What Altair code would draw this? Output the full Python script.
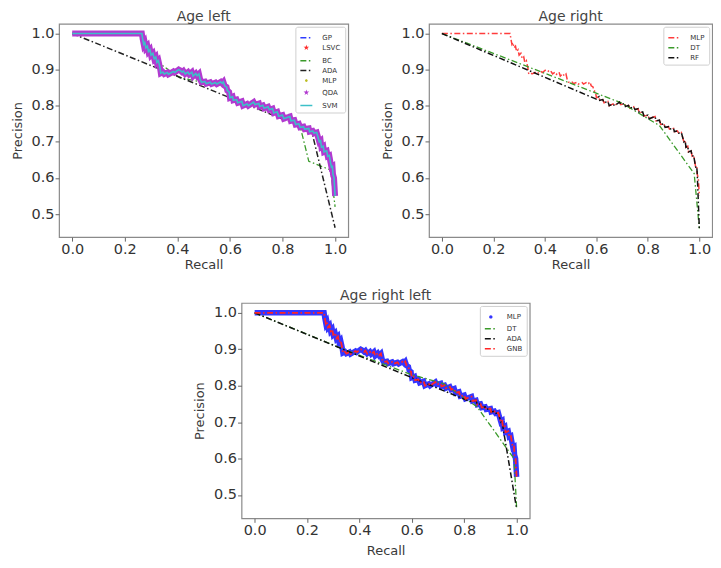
import altair as alt
import pandas as pd

# ---- main (stepped) precision-recall curve ----
main_recall = [0.0, 0.265, 0.268, 0.272, 0.276, 0.280, 0.286, 0.290, 0.296, 0.300,
               0.307, 0.312, 0.318, 0.322, 0.328, 0.334, 0.337, 0.345, 0.350, 0.362,
               0.366, 0.385, 0.390, 0.405, 0.410, 0.418, 0.423, 0.430, 0.440, 0.445,
               0.455, 0.460, 0.470, 0.475, 0.482, 0.487, 0.492, 0.505, 0.510, 0.525,
               0.530, 0.545, 0.550, 0.565, 0.570, 0.575, 0.580, 0.587, 0.590, 0.597,
               0.600, 0.610, 0.613, 0.625, 0.630, 0.645, 0.650, 0.665, 0.670, 0.690,
               0.695, 0.710, 0.713, 0.725, 0.730, 0.745, 0.750, 0.762, 0.767, 0.780,
               0.785, 0.800, 0.805, 0.820, 0.828, 0.832, 0.845, 0.850, 0.862, 0.867,
               0.880, 0.884, 0.900, 0.903, 0.915, 0.920, 0.930, 0.935, 0.940, 0.945,
               0.948, 0.955, 0.958, 0.968, 0.972, 0.978, 0.982, 0.986, 0.990, 0.992,
               0.996, 0.998, 1.000]
main_precision = [1.000, 1.000, 0.985, 0.970, 0.975, 0.960, 0.965, 0.950, 0.955, 0.940,
                  0.945, 0.930, 0.935, 0.920, 0.925, 0.905, 0.890, 0.893, 0.888, 0.892,
                  0.887, 0.895, 0.892, 0.900, 0.898, 0.893, 0.896, 0.888, 0.893, 0.887,
                  0.893, 0.882, 0.889, 0.883, 0.888, 0.872, 0.865, 0.867, 0.861, 0.865,
                  0.860, 0.864, 0.860, 0.866, 0.862, 0.866, 0.855, 0.852, 0.842, 0.838,
                  0.822, 0.825, 0.815, 0.817, 0.808, 0.812, 0.800, 0.805, 0.800, 0.810,
                  0.803, 0.806, 0.798, 0.801, 0.793, 0.797, 0.789, 0.792, 0.780, 0.783,
                  0.771, 0.774, 0.764, 0.768, 0.770, 0.758, 0.760, 0.748, 0.750, 0.740,
                  0.742, 0.735, 0.737, 0.728, 0.730, 0.724, 0.726, 0.713, 0.700, 0.703,
                  0.685, 0.688, 0.672, 0.675, 0.660, 0.662, 0.645, 0.630, 0.632, 0.610,
                  0.600, 0.575, 0.550]

# ---- other curves (read values) ----
bc_head_r = [0.0, 0.265, 0.290, 0.330, 0.410, 0.470, 0.490]
bc_head_p = [1.000, 1.000, 0.960, 0.918, 0.877, 0.869, 0.866]
bc_tail_r = [0.869, 0.900, 0.983, 1.000]
bc_tail_p = [0.737, 0.646, 0.622, 0.520]

ada1_head_r = [0.0, 0.820]
ada1_head_p = [1.000, 0.757]
ada1_tail_r = [0.912, 1.000]
ada1_tail_p = [0.726, 0.462]

dt2_r = [0.0, 0.700, 0.845, 0.980, 1.000]
dt2_p = [1.000, 0.807, 0.745, 0.612, 0.460]

rf_head_r = [0.0, 0.600]
rf_head_p = [1.000, 0.818]
rf_tail_r = [1.000]
rf_tail_p = [0.460]

dt3_r = [0.0, 0.350, 0.600, 0.720, 0.849, 0.990, 1.000]
dt3_p = [1.000, 0.897, 0.830, 0.806, 0.742, 0.600, 0.465]

ada3_head_r = [0.0, 0.820]
ada3_head_p = [1.000, 0.757]
ada3_tail_r = [1.000]
ada3_tail_p = [0.462]

x_ticks = [0.0, 0.2, 0.4, 0.6, 0.8, 1.0]
y_ticks = [0.5, 0.6, 0.7, 0.8, 0.9, 1.0]


def main_between(lo, hi):
    return [(r, p) for r, p in zip(main_recall, main_precision) if lo < r <= hi]


def combine(head_r, head_p, lo, hi, tail_r, tail_p):
    pts = list(zip(head_r, head_p)) + main_between(lo, hi) + list(zip(tail_r, tail_p))
    return [p[0] for p in pts], [p[1] for p in pts]


main = (main_recall, main_precision)
bc = combine(bc_head_r, bc_head_p, 0.49, 0.862, bc_tail_r, bc_tail_p)
ada1 = combine(ada1_head_r, ada1_head_p, 0.83, 0.905, ada1_tail_r, ada1_tail_p)
rf = combine(rf_head_r, rf_head_p, 0.605, 0.992, rf_tail_r, rf_tail_p)
ada3 = combine(ada3_head_r, ada3_head_p, 0.83, 0.948, ada3_tail_r, ada3_tail_p)
dt2 = (dt2_r, dt2_p)
dt3 = (dt3_r, dt3_p)

DASHDOT = [6, 2.5, 1.5, 2.5]
SOLID = [1, 0]
STAR = ("M0,-0.5L0.112,-0.154L0.476,-0.155L0.181,0.059L0.294,0.405L0,0.19"
        "L-0.294,0.405L-0.181,0.059L-0.476,-0.155L-0.112,-0.154Z")
DOT = "M-0.22,0A0.22,0.22 0 1,0 0.22,0A0.22,0.22 0 1,0 -0.22,0Z"
BIGDOT = "M-0.28,0A0.28,0.28 0 1,0 0.28,0A0.28,0.28 0 1,0 -0.28,0Z"

# drawn lines: (name, data, color, dash, width)
panel1_lines = [
    ("GP", main, "#2f3cff", DASHDOT, 1.5),
    ("LSVC", main, "#ff2a2a", SOLID, 1.5),
    ("BC", bc, "#3a9a2a", DASHDOT, 1.3),
    ("ADA", ada1, "#222222", DASHDOT, 1.5),
    ("MLP", main, "#bcbc20", SOLID, 1.5),
    ("QDA", main, "#b23ad0", SOLID, 6.0),
    ("SVM", main, "#3cc0c8", SOLID, 1.6),
]
panel1_legend = [
    ("GP", "stroke", "transparent", "#2f3cff", DASHDOT),
    ("LSVC", STAR, "#ff2a2a", "transparent", SOLID),
    ("BC", "stroke", "transparent", "#3a9a2a", DASHDOT),
    ("ADA", "stroke", "transparent", "#222222", DASHDOT),
    ("MLP", DOT, "#bcbc20", "transparent", SOLID),
    ("QDA", STAR, "#b23ad0", "transparent", SOLID),
    ("SVM", "stroke", "transparent", "#3cc0c8", SOLID),
]
panel2_lines = [
    ("MLP", main, "#ff3c3c", DASHDOT, 1.5),
    ("DT", dt2, "#3a9a2a", DASHDOT, 1.3),
    ("RF", rf, "#111111", DASHDOT, 1.5),
]
panel2_legend = [
    ("MLP", "stroke", "transparent", "#ff3c3c", DASHDOT),
    ("DT", "stroke", "transparent", "#3a9a2a", DASHDOT),
    ("RF", "stroke", "transparent", "#111111", DASHDOT),
]
panel3_lines = [
    ("MLP", main, "#3535ff", SOLID, 5.5),
    ("DT", dt3, "#3a9a2a", DASHDOT, 1.3),
    ("ADA", ada3, "#111111", DASHDOT, 1.5),
    ("GNB", main, "#ff2525", DASHDOT, 1.8),
]
panel3_legend = [
    ("MLP", BIGDOT, "#3535ff", "transparent", SOLID),
    ("DT", "stroke", "transparent", "#3a9a2a", DASHDOT),
    ("ADA", "stroke", "transparent", "#111111", DASHDOT),
    ("GNB", "stroke", "transparent", "#ff2525", DASHDOT),
]

FONT = "DejaVu Sans"
xscale = alt.Scale(domain=[-0.05, 1.05], nice=False, zero=False)
yscale = alt.Scale(domain=[0.436, 1.027], nice=False, zero=False)


def panel(title, lines, legend_rows, width, height, xtitle_pad):
    xaxis = alt.Axis(values=x_ticks, format=".1f", title="Recall", titlePadding=xtitle_pad)
    yaxis = alt.Axis(values=y_ticks, format=".1f", title="Precision", titlePadding=7)
    layers = []
    for name, (rr, pp), color, dash, sw in lines:
        d = pd.DataFrame({"recall": rr, "precision": pp, "idx": list(range(len(rr)))})
        layers.append(
            alt.Chart(d).mark_line(color=color, strokeDash=dash, strokeWidth=sw, clip=True)
            .encode(x=alt.X("recall:Q", scale=xscale, axis=xaxis),
                    y=alt.Y("precision:Q", scale=yscale, axis=yaxis),
                    order="idx:Q")
        )
    names = [r[0] for r in legend_rows]
    leg = alt.Legend(title=None, orient="top-right", offset=3, padding=4,
                     strokeColor="#cfcfcf", fillColor="white", cornerRadius=2,
                     labelFont="DejaVu Sans", labelFontSize=7, labelColor="#333",
                     symbolSize=144, symbolStrokeWidth=1.5, rowPadding=0,
                     labelOffset=9)
    ld = pd.DataFrame({"series": names, "recall": [-1.0] * len(names),
                       "precision": [0.7] * len(names)})
    layers.append(
        alt.Chart(ld).mark_point(clip=True, opacity=1, size=144, strokeWidth=1.5)
        .encode(
            x=alt.X("recall:Q", scale=xscale, axis=xaxis),
            y=alt.Y("precision:Q", scale=yscale, axis=yaxis),
            shape=alt.Shape("series:N", scale=alt.Scale(domain=names, range=[r[1] for r in legend_rows]), legend=leg),
            fill=alt.Fill("series:N", scale=alt.Scale(domain=names, range=[r[2] for r in legend_rows]), legend=leg),
            stroke=alt.Stroke("series:N", scale=alt.Scale(domain=names, range=[r[3] for r in legend_rows]), legend=leg),
            strokeDash=alt.StrokeDash("series:N", scale=alt.Scale(domain=names, range=[r[4] for r in legend_rows]), legend=leg),
        )
    )
    return alt.layer(*layers).properties(
        width=width, height=height,
        title=alt.TitleParams(title, font=FONT, fontSize=14, fontWeight="normal",
                              color="#444444", offset=0),
    )


p1 = panel("Age left", panel1_lines, panel1_legend, 290, 214, 3)
p2 = panel("Age right", panel2_lines, panel2_legend, 284, 214, 3)
p3 = panel("Age right left", panel3_lines, panel3_legend, 289, 216, 8)

res = dict(shape="independent", fill="independent", stroke="independent",
           strokeDash="independent", x="independent", y="independent")
leg_res = dict(shape="independent", fill="independent", stroke="independent",
               strokeDash="independent")
top = alt.hconcat(p1, p2, spacing=31).resolve_scale(**res).resolve_legend(**leg_res)
chart = alt.vconcat(top, p3, spacing=15, center=True).resolve_scale(**res).resolve_legend(**leg_res)

chart = chart.properties(
    padding={"left": 2, "top": 0, "right": 0, "bottom": 0}, background="white"
).configure_view(
    stroke="#8a8a8a", strokeWidth=1.2
).configure_axis(
    grid=False, domain=False, tickSize=4, tickColor="#666666", tickWidth=1,
    labelFont=FONT, labelFontSize=14.5, labelColor="#333333", labelPadding=1,
    titleFont=FONT, titleFontSize=13, titleFontWeight="normal", titleColor="#3a3a3a",
)

chart.save("out.html", embed_options={"renderer": "svg", "actions": False})
